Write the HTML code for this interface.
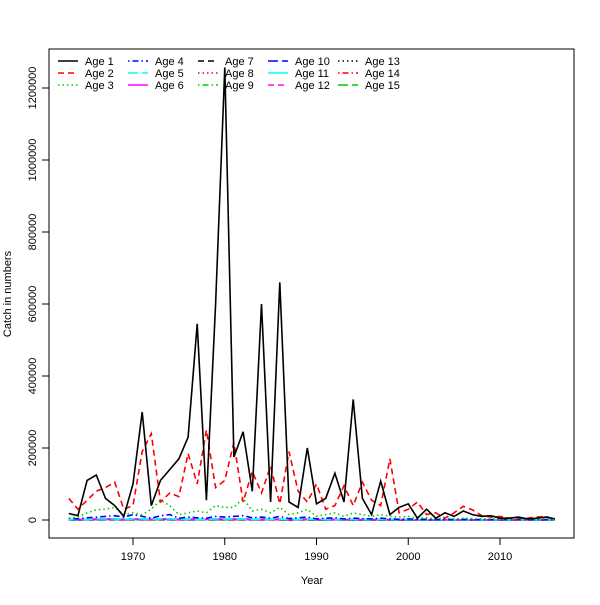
<!DOCTYPE html>
<html><head><meta charset="utf-8"><style>body{margin:0;background:#fff}svg{font-family:"Liberation Sans",sans-serif}</style></head>
<body>
<svg id="chart" width="600" height="600" xmlns="http://www.w3.org/2000/svg">
<rect width="600" height="600" fill="#fff"/>
<g id="plot"></g>
<rect x="49" y="49" width="525" height="489" fill="none" stroke="#000"/>
<g id="axes"></g>
<g id="legend"></g>
<text x="312" y="584" font-size="11" text-anchor="middle">Year</text>
<text transform="translate(11,294) rotate(-90)" font-size="11" text-anchor="middle">Catch in numbers</text>
</svg>
<script>
const years = [];
for (let y = 1963; y <= 2016; y++) years.push(y);
const xTicks = [1970, 1980, 1990, 2000, 2010];
const yTicks = [0, 200000, 400000, 600000, 800000, 1000000, 1200000];
const age1 = [18000,12000,110000,125000,60000,40000,10000,100000,300000,40000,110000,140000,170000,230000,545000,55000,600000,1257000,175000,245000,80000,600000,50000,660000,50000,35000,200000,45000,60000,130000,50000,335000,60000,15000,108000,15000,35000,45000,5000,30000,5000,20000,10000,25000,15000,10000,12000,5000,5000,8000,3000,5000,8000,3000];
const age2 = [60000,30000,55000,80000,90000,105000,30000,40000,190000,240000,50000,75000,65000,185000,100000,250000,90000,110000,215000,50000,135000,75000,150000,45000,190000,80000,50000,100000,30000,40000,95000,40000,105000,55000,40000,170000,20000,30000,50000,15000,20000,5000,20000,38000,28000,12000,8000,10000,5000,5000,5000,8000,10000,2000];
const age3 = [5000,8000,20000,28000,30000,35000,15000,20000,15000,30000,55000,40000,15000,20000,25000,20000,40000,35000,35000,60000,25000,30000,20000,35000,15000,20000,30000,10000,15000,20000,10000,20000,15000,10000,15000,10000,8000,10000,5000,6000,4000,5000,3000,5000,4000,3000,3000,2000,2000,3000,2000,2000,3000,1000];
const age4 = [5000,3000,6000,8000,10000,12000,8000,15000,10000,5000,12000,15000,5000,8000,6000,5000,10000,8000,10000,12000,6000,8000,5000,10000,4000,6000,8000,3000,5000,6000,3000,5000,4000,3000,5000,3000,2000,3000,2000,2000,1000,2000,1000,2000,1000,1000,1000,1000,1000,1000,1000,1000,1000,500];
const ageSmall = [2000,1500,2000,3000,3000,3000,2000,3000,3000,2000,3000,3000,2000,2500,2000,2000,3000,2500,2500,3000,2000,2500,2000,2500,1500,2000,2500,1000,1500,2000,1000,1500,1000,1000,1500,1000,800,1000,500,600,500,500,400,500,400,400,400,300,300,300,300,300,300,200];
const ageTiny = [800,600,800,1000,1000,1200,800,1000,1000,800,1000,1200,800,900,800,800,1000,900,900,1000,800,900,800,900,600,800,900,500,600,800,500,600,500,500,600,500,400,400,300,300,200,200,200,200,200,200,200,100,100,100,100,100,100,100];
const seriesNames = ["Age 1","Age 2","Age 3","Age 4","Age 5","Age 6","Age 7","Age 8","Age 9","Age 10","Age 11","Age 12","Age 13","Age 14","Age 15"];
const seriesValues = [age1,age2,age3,age4,ageSmall,ageSmall,ageTiny,ageTiny,ageTiny,ageTiny,ageTiny,ageTiny,ageTiny,ageTiny,ageTiny];

const colors = ["#000","#f00","#00cd00","#00f","#0ff","#f0f"];
const dashes = ["", "6,4", "1.5,3", "1.5,3,6,3", "10,4"];
const xs = v => 133 + (v - 1970) * 9.175;
const ys = v => 520 - v * 0.00036;
const NS = "http://www.w3.org/2000/svg";
const plot = document.getElementById('plot');
const axes = document.getElementById('axes');
const legend = document.getElementById('legend');
function mk(tag, attrs, parent) { const e = document.createElementNS(NS, tag); for (const k in attrs) e.setAttribute(k, attrs[k]); parent.appendChild(e); return e; }

for (let i = seriesValues.length - 1; i >= 0; i--) {
  const vals = seriesValues[i];
  const d = vals.map((v, j) => (j ? 'L' : 'M') + xs(years[j]).toFixed(1) + ',' + ys(v).toFixed(1)).join('');
  const p = mk('path', {d: d, fill: 'none', stroke: colors[i % 6], 'stroke-width': 1.6, 'stroke-dasharray': dashes[i % 5]}, plot);
  
  
}
xTicks.forEach(t => {
  const l = mk('line', {x1: xs(t), x2: xs(t), y1: 538, y2: 545, stroke: '#000'}, axes);
  
  
  const tx = mk('text', {x: xs(t), y: 560, 'font-size': 11, 'text-anchor': 'middle'}, axes);
  tx.textContent = t;
  
  
});
yTicks.forEach(t => {
  const l = mk('line', {x1: 42, x2: 49, y1: ys(t), y2: ys(t), stroke: '#000'}, axes);
  
  
  const tx = mk('text', {transform: 'translate(36,' + ys(t) + ') rotate(-90)', 'font-size': 11, 'text-anchor': 'middle'}, axes);
  tx.textContent = t;
  
  
});
seriesNames.forEach((n, i) => {
  const col = Math.floor(i / 3), row = i % 3;
  const x0 = 58 + col * 70, y0 = 61 + row * 12;
  const l = mk('line', {x1: x0, x2: x0 + 20, y1: y0, y2: y0, stroke: colors[i % 6], 'stroke-width': 1.6, 'stroke-dasharray': dashes[i % 5]}, legend);
  
  
  const tx = mk('text', {x: x0 + 27, y: y0 + 4, 'font-size': 11}, legend);
  tx.textContent = n;
  
  
});
</script>
</body></html>
